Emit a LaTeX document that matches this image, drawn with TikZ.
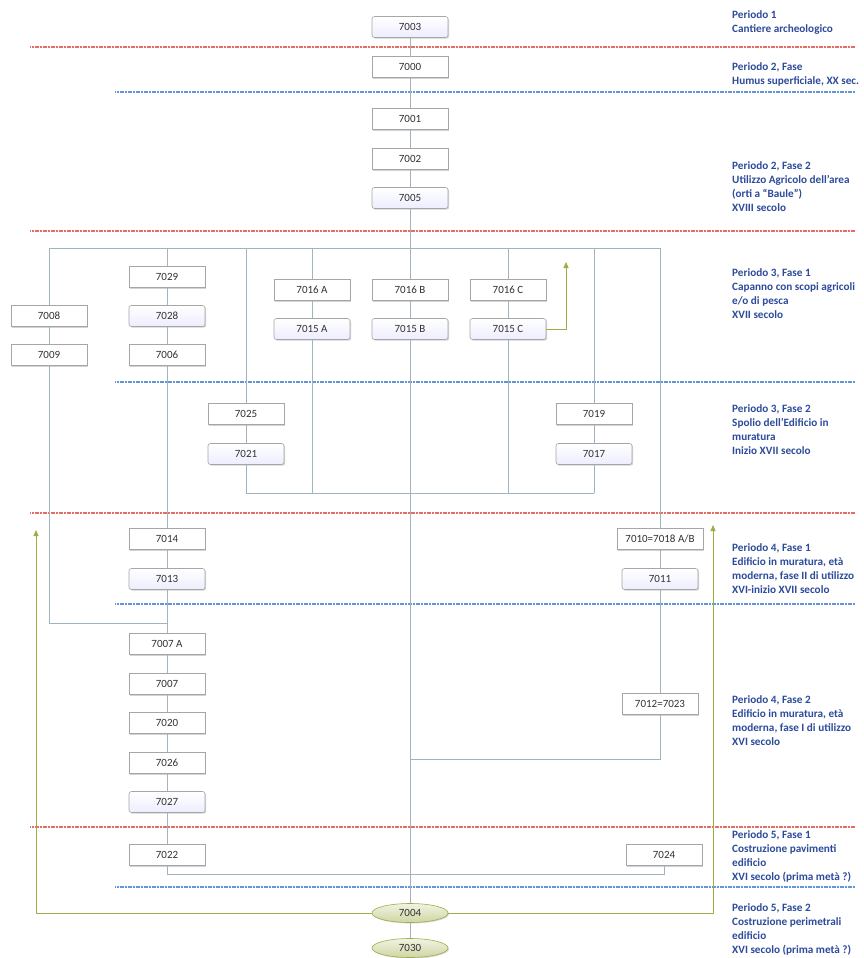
\documentclass[tikz,border=0pt]{standalone}
\usepackage{fontspec}
\setmainfont{Carlito}
\usetikzlibrary{shadows,arrows.meta,shapes.geometric}
\definecolor{conn}{RGB}{160,180,192}
\definecolor{redl}{RGB}{228,110,100}
\definecolor{bluel}{RGB}{100,150,215}
\definecolor{olive}{RGB}{160,172,70}
\definecolor{lbl}{RGB}{45,75,155}
\definecolor{boxtxt}{RGB}{50,50,50}
\tikzset{
  ubox/.style={draw=gray!70, fill=white, line width=0.6pt, minimum width=76pt, minimum height=21pt,
     inner sep=1pt, font=\fontsize{11}{12}\selectfont, text=boxtxt,
     drop shadow={shadow xshift=1.2pt, shadow yshift=-1.2pt, opacity=0.35}},
  gbox/.style={ubox, rounded corners=2.5pt, top color=white, bottom color=black!4!blue!8!white!88},
  ell/.style={ellipse, draw=olive, line width=0.6pt, minimum width=76pt, minimum height=19pt, inner sep=0pt,
     top color=olive!15, bottom color=olive!50, font=\fontsize{11}{12}\selectfont, text=boxtxt,
     drop shadow={shadow xshift=1pt, shadow yshift=-1pt, opacity=0.3}},
  conline/.style={draw=conn, line width=0.7pt},
  oline/.style={draw=olive, line width=0.9pt},
  oarrow/.style={oline, -{Triangle[length=6pt, width=5pt]}},
  redsep/.style={draw=redl, line width=1.1pt, dash pattern=on 1.2pt off 0.4pt},
  bluesep/.style={draw=bluel, line width=1.1pt, dash pattern=on 1.2pt off 0.4pt},
  plabel/.style={anchor=north west, inner sep=0pt, align=left, text=lbl,
     font=\bfseries\fontsize{11.2}{14.3}\selectfont},
}
\begin{document}
\begin{tikzpicture}[x=1pt,y=-1pt]
\useasboundingbox[fill=white] (0,0) rectangle (863,958);

% separators
\draw[redsep] (30,47) -- (855,47);
\draw[bluesep] (115,92) -- (855,92);
\draw[redsep] (30,231) -- (855,231);
\draw[bluesep] (115,382) -- (855,382);
\draw[redsep] (30,513) -- (855,513);
\draw[bluesep] (115,604) -- (855,604);
\draw[redsep] (30,827) -- (855,827);
\draw[bluesep] (115,887) -- (855,887);

% coordinates
\coordinate (ftl) at (49,248);
\coordinate (ftr) at (660,248);
\coordinate (t167) at (167,248);
\coordinate (t246) at (246,248);
\coordinate (t312) at (312,248);
\coordinate (t508) at (508,248);
\coordinate (t594) at (594,248);
\coordinate (lbot) at (49,623);
\coordinate (ljoin) at (167,623);
\coordinate (ib246) at (246,493);
\coordinate (ib312) at (312,493);
\coordinate (ib508) at (508,493);
\coordinate (ib594) at (594,493);
\coordinate (r759) at (660,759);
\coordinate (c759) at (410,759);
\coordinate (b167) at (167,874);
\coordinate (b664) at (664,874);
\coordinate (oL) at (36,913);
\coordinate (oLt) at (36,530);
\coordinate (oR) at (713,913);
\coordinate (oRt) at (713,525);
\coordinate (c15) at (566,329);
\coordinate (c15t) at (566,262);

% central column
\node[gbox] (n7003) at (410,27) {7003};
\node[ubox] (n7000) at (410,67) {7000};
\node[ubox] (n7001) at (410,119) {7001};
\node[ubox] (n7002) at (410,159) {7002};
\node[gbox] (n7005) at (410,198) {7005};
\node[ubox] (n7016B) at (410,290) {7016 B};
\node[gbox] (n7015B) at (410,329) {7015 B};
\node[ell] (n7004) at (410,913) {7004};
\node[ell] (n7030) at (410,948) {7030};

% left columns
\node[ubox] (n7008) at (49,316) {7008};
\node[ubox] (n7009) at (49,355) {7009};
\node[ubox] (n7029) at (167,277) {7029};
\node[gbox] (n7028) at (167,316) {7028};
\node[ubox] (n7006) at (167,355) {7006};
\node[ubox] (n7014) at (167,539) {7014};
\node[gbox] (n7013) at (167,579) {7013};
\node[ubox] (n7007A) at (167,644) {7007 A};
\node[ubox] (n7007) at (167,684) {7007};
\node[ubox] (n7020) at (167,723) {7020};
\node[ubox] (n7026) at (167,763) {7026};
\node[gbox] (n7027) at (167,802) {7027};
\node[ubox] (n7022) at (167,855) {7022};

\node[ubox] (n7025) at (246,414) {7025};
\node[gbox] (n7021) at (246,454) {7021};
\node[ubox] (n7016A) at (312,290) {7016 A};
\node[gbox] (n7015A) at (312,329) {7015 A};
\node[ubox] (n7016C) at (508,290) {7016 C};
\node[gbox] (n7015C) at (508,329) {7015 C};
\node[ubox] (n7019) at (594,414) {7019};
\node[gbox] (n7017) at (594,454) {7017};

\node[ubox, minimum width=86pt] (n7010) at (660,539) {7010=7018 A/B};
\node[gbox] (n7011) at (660,579) {7011};
\node[ubox] (n7012) at (660,704) {7012=7023};
\node[ubox] (n7024) at (664,855) {7024};

% central
\draw[conline] (n7003) -- (n7000);
\draw[conline] (n7000) -- (n7001);
\draw[conline] (n7001) -- (n7002);
\draw[conline] (n7002) -- (n7005);
\draw[conline] (n7005) -- (n7016B);
\draw[conline] (n7016B) -- (n7015B);
\draw[conline] (n7015B) -- (n7004);
\draw[conline] (n7004) -- (n7030);
% frame top
\draw[conline] (ftl) -- (ftr);
% column 49
\draw[conline] (ftl) -- (n7008);
\draw[conline] (n7008) -- (n7009);
\draw[conline] (n7009) -- (lbot) -- (ljoin);
% column 167
\draw[conline] (t167) -- (n7029);
\draw[conline] (n7029) -- (n7028);
\draw[conline] (n7028) -- (n7006);
\draw[conline] (n7006) -- (n7014);
\draw[conline] (n7014) -- (n7013);
\draw[conline] (n7013) -- (n7007A);
\draw[conline] (n7007A) -- (n7007);
\draw[conline] (n7007) -- (n7020);
\draw[conline] (n7020) -- (n7026);
\draw[conline] (n7026) -- (n7027);
\draw[conline] (n7027) -- (n7022);
\draw[conline] (n7022) -- (b167) -- (b664) -- (n7024);
% inner box
\draw[conline] (t246) -- (n7025);
\draw[conline] (n7025) -- (n7021);
\draw[conline] (n7021) -- (ib246) -- (ib594);
\draw[conline] (t312) -- (n7016A);
\draw[conline] (n7016A) -- (n7015A);
\draw[conline] (n7015A) -- (ib312);
\draw[conline] (t508) -- (n7016C);
\draw[conline] (n7016C) -- (n7015C);
\draw[conline] (n7015C) -- (ib508);
\draw[conline] (t594) -- (n7019);
\draw[conline] (n7019) -- (n7017);
\draw[conline] (n7017) -- (ib594);
% column 660
\draw[conline] (ftr) -- (n7010);
\draw[conline] (n7010) -- (n7011);
\draw[conline] (n7011) -- (n7012);
\draw[conline] (n7012) -- (r759) -- (c759);
% olive arrows
\draw[oarrow] (n7004.west) -- (oL) -- (oLt);
\draw[oarrow] (n7004.east) -- (oR) -- (oRt);
\draw[oarrow] (n7015C.east) -- (c15) -- (c15t);

% labels
\node[plabel] (p1) at (732,10) {Periodo 1\\Cantiere archeologico};
\node[plabel] (p2) at (732,62) {Periodo 2, Fase\\Humus superficiale, XX sec.};
\node[plabel] (p3) at (732,161) {Periodo 2, Fase 2\\Utilizzo Agricolo dell'area\\(orti a “Baule”)\\XVIII secolo};
\node[plabel] (p4) at (732,268) {Periodo 3, Fase 1\\Capanno con scopi agricoli\\e/o di pesca\\XVII secolo};
\node[plabel] (p5) at (732,404) {Periodo 3, Fase 2\\Spolio dell'Edificio in\\muratura\\Inizio XVII secolo};
\node[plabel] (p6) at (732,543) {Periodo 4, Fase 1\\Edificio in muratura, età\\moderna, fase II di utilizzo\\XVI-inizio XVII secolo};
\node[plabel] (p7) at (732,695) {Periodo 4, Fase 2\\Edificio in muratura, età\\moderna, fase I di utilizzo\\XVI secolo};
\node[plabel] (p8) at (732,830) {Periodo 5, Fase 1\\Costruzione pavimenti\\edificio\\XVI secolo (prima metà ?)};
\node[plabel] (p9) at (732,903) {Periodo 5, Fase 2\\Costruzione perimetrali\\edificio\\XVI secolo (prima metà ?)};
\end{tikzpicture}
\end{document}
